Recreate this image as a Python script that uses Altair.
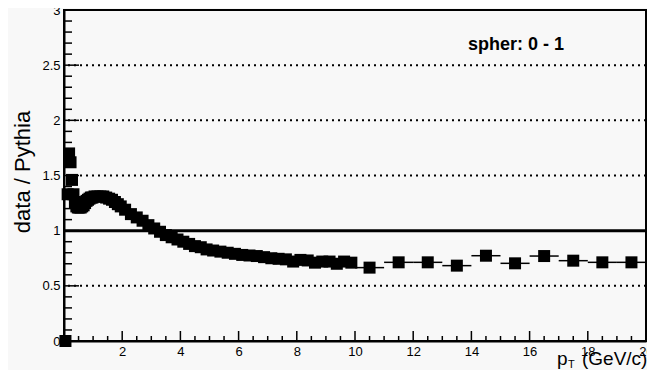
import altair as alt
import pandas as pd

# ---- data ----
pt_center = [0.05,
             0.125, 0.175, 0.225, 0.275, 0.325, 0.375, 0.425, 0.475, 0.525,
             0.575, 0.625, 0.675, 0.725, 0.775, 0.825, 0.875, 0.925, 0.975,
             1.05, 1.15, 1.25, 1.35, 1.45, 1.55, 1.65, 1.75, 1.85, 1.95,
             2.1, 2.3, 2.5, 2.7, 2.9, 3.1, 3.3, 3.5, 3.7, 3.9, 4.1, 4.3, 4.5, 4.7, 4.9,
             5.125, 5.375, 5.625, 5.875, 6.125, 6.375, 6.625, 6.875, 7.125, 7.375,
             7.625, 7.875, 8.125, 8.375, 8.625, 8.875, 9.125, 9.375, 9.625, 9.875,
             10.5, 11.5, 12.5, 13.5, 14.5, 15.5, 16.5, 17.5, 18.5, 19.5]
pt_half = [0.05] + [0.025] * 18 + [0.05] * 10 + [0.1] * 15 + [0.125] * 20 + [0.5] * 10
ratio = [0.0,
         1.33, 1.70, 1.62, 1.46, 1.33, 1.26, 1.22, 1.21, 1.21,
         1.21, 1.22, 1.23, 1.25, 1.27, 1.28, 1.29, 1.30, 1.30,
         1.31, 1.31, 1.31, 1.31, 1.30, 1.29, 1.28, 1.26, 1.24, 1.22,
         1.19, 1.15, 1.12, 1.09, 1.05, 1.02, 0.99, 0.96, 0.94, 0.92, 0.90, 0.88, 0.86, 0.85, 0.83,
         0.82, 0.81, 0.80, 0.79, 0.78, 0.775, 0.77, 0.76, 0.75, 0.745,
         0.74, 0.72, 0.735, 0.73, 0.71, 0.72, 0.72, 0.70, 0.72, 0.71,
         0.665, 0.713, 0.713, 0.683, 0.773, 0.704, 0.77, 0.728, 0.713, 0.713]

y_labels = [0, 0.5, 1, 1.5, 2, 2.5, 3]
x_labels = [2, 4, 6, 8, 10, 12, 14, 16, 18, 20]
dotted_levels = [0.5, 1.5, 2, 2.5]
unity = [1]

y_major = [0, 0.5, 1, 1.5, 2, 2.5, 3]
y_minor = [round(i * 0.1, 2) for i in range(31) if i % 5 != 0]
x_major = [0, 2, 4, 6, 8, 10, 12, 14, 16, 18, 20]
x_minor = [i * 0.5 for i in range(41) if i % 4 != 0]

df = pd.DataFrame({"pt": pt_center, "half": pt_half, "r": ratio})
df["lo"] = df["pt"] - df["half"]
df["hi"] = df["pt"] + df["half"]

W, H = 582, 331
FONT = "Liberation Sans"

xscale = alt.Scale(domain=[0, 20], nice=False, zero=False)
yscale = alt.Scale(domain=[0, 3], nice=False, zero=False)
xaxis = alt.Axis(values=x_labels, title=None, grid=False, ticks=False, tickSize=0,
                 domainColor="black", domainWidth=2, labelFont=FONT, labelFontSize=13,
                 labelColor="black", labelPadding=4, labelFlush=False, labelOverlap=False)
yaxis = alt.Axis(values=y_labels, title=None, grid=False, ticks=False, tickSize=0,
                 domainColor="black", domainWidth=2, labelFont=FONT, labelFontSize=13,
                 labelColor="black", labelPadding=4, labelExpr="'' + datum.value",
                 labelFlush=False, labelOverlap=False)


def X(f):
    return alt.X(f, type="quantitative", scale=xscale, axis=xaxis)


def Y(f):
    return alt.Y(f, type="quantitative", scale=yscale, axis=yaxis)


grid = alt.Chart(pd.DataFrame({"v": dotted_levels})).mark_rule(
    color="black", strokeDash=[2, 4], strokeWidth=2
).encode(y=Y("v"))

one = alt.Chart(pd.DataFrame({"v": unity})).mark_rule(
    color="black", strokeWidth=3
).encode(y=Y("v"))

ebars = alt.Chart(df).mark_rule(color="black", strokeWidth=1.5).encode(
    x=X("lo"), x2="hi", y=Y("r"))

pts = alt.Chart(df).mark_square(size=144, color="black", opacity=1, filled=True).encode(
    x=X("pt"), y=Y("r"))

ymaj = alt.Chart(pd.DataFrame({"v": y_major})).mark_rule(color="black", strokeWidth=1.5).encode(
    y=Y("v"), x=alt.value(0), x2=alt.value(15))
ymin = alt.Chart(pd.DataFrame({"v": y_minor})).mark_rule(color="black", strokeWidth=1.5).encode(
    y=Y("v"), x=alt.value(0), x2=alt.value(8))
xmaj = alt.Chart(pd.DataFrame({"v": x_major})).mark_rule(color="black", strokeWidth=1.5).encode(
    x=X("v"), y=alt.value(H), y2=alt.value(H - 10))
xmin = alt.Chart(pd.DataFrame({"v": x_minor})).mark_rule(color="black", strokeWidth=1.5).encode(
    x=X("v"), y=alt.value(H), y2=alt.value(H - 5))

ytitle = alt.Chart(pd.DataFrame({"t": ["data / Pythia"]})).mark_text(
    font=FONT, fontSize=22, angle=270, align="center", baseline="alphabetic", color="black"
).encode(x=alt.value(-34), y=alt.value(162), text="t:N")

xt_p = alt.Chart(pd.DataFrame({"t": ["p"]})).mark_text(
    font=FONT, fontSize=19, align="left", baseline="alphabetic", color="black"
).encode(x=alt.value(493), y=alt.value(355), text="t:N")
xt_T = alt.Chart(pd.DataFrame({"t": ["T"]})).mark_text(
    font=FONT, fontSize=11, align="left", baseline="alphabetic", color="black"
).encode(x=alt.value(504), y=alt.value(358), text="t:N")
xt_u = alt.Chart(pd.DataFrame({"t": ["(GeV/c)"]})).mark_text(
    font=FONT, fontSize=19, align="left", baseline="alphabetic", color="black"
).encode(x=alt.value(518), y=alt.value(355), text="t:N")

label = alt.Chart(pd.DataFrame({"t": ["spher: 0 - 1"]})).mark_text(
    font=FONT, fontSize=18, fontWeight="bold", align="center", baseline="alphabetic", color="black"
).encode(x=alt.value(452), y=alt.value(40), text="t:N")

chart = alt.layer(
    grid, one, ebars, pts, ymaj, ymin, xmaj, xmin, ytitle, xt_p, xt_T, xt_u, label
).properties(
    width=W, height=H,
    autosize=alt.AutoSizeParams(type="none"),
    padding={"left": 56, "top": 2, "right": 1, "bottom": 29},
    background="#f8f8f8",
).configure_view(stroke="black", strokeWidth=2, fill="#f8f8f8")

chart.save("out.html", embed_options={"renderer": "svg", "actions": False})
